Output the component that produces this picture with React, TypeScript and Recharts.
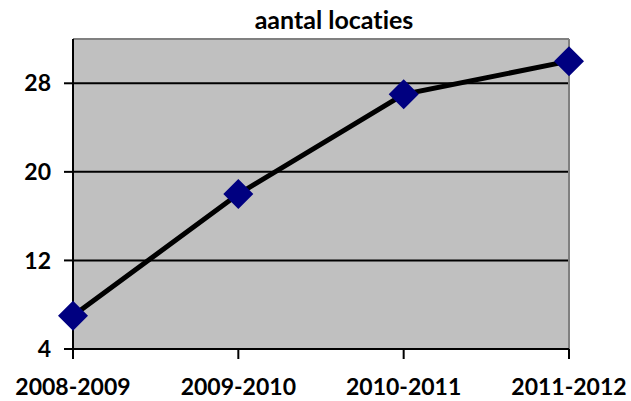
import React from 'react';
import { LineChart, Line, XAxis, YAxis, CartesianGrid, ReferenceLine } from 'recharts';

const seasons = ['2008-2009', '2009-2010', '2010-2011', '2011-2012'];
const locations = [7, 18, 27, 30];
const yTicks = [4, 12, 20, 28];

const chartData = seasons.map((season, i) => ({ season, locaties: locations[i] }));

const font = 'Lato, "Open Sans", sans-serif';

const DiamondDot = (props: any) => {
  const { cx, cy, index } = props;
  if (cx == null || cy == null) return null;
  const r = 15;
  return (
    <polygon
      key={`d-${index}`}
      points={`${cx},${cy - r} ${cx + r},${cy} ${cx},${cy + r} ${cx - r},${cy}`}
      fill="#000080"
    />
  );
};

export default function App() {
  return (
    <div style={{ position: 'absolute', left: 0, top: 0, width: 631, height: 401, background: '#fff' }}>
      <div
        style={{
          position: 'absolute',
          left: 334,
          top: 5,
          transform: 'translateX(-50%)',
          fontFamily: font,
          fontWeight: 700,
          fontSize: 25,
          lineHeight: '28px',
          whiteSpace: 'nowrap',
          fontVariantLigatures: 'none',
          color: '#000',
        }}
      >
        aantal locaties
      </div>
      <LineChart
        width={631}
        height={401}
        data={chartData}
        margin={{ top: 39, right: 62, left: 0, bottom: 0 }}
      >
        <CartesianGrid vertical={false} fill="#C0C0C0" stroke="#000" strokeWidth={2} />
        <XAxis
          dataKey="season"
          scale="point"
          padding={{ left: 0, right: 0 }}
          height={52}
          interval={0}
          axisLine={{ stroke: '#000', strokeWidth: 2 }}
          tickLine={{ stroke: '#000', strokeWidth: 2 }}
          tickSize={10}
          tickMargin={20}
          tick={{ fontFamily: font, fontWeight: 700, fontSize: 23, fill: '#000' }}
        />
        <YAxis
          domain={[4, 32]}
          ticks={yTicks}
          width={73}
          interval={0}
          axisLine={{ stroke: '#000', strokeWidth: 2 }}
          tickLine={{ stroke: '#000', strokeWidth: 2 }}
          tickSize={9}
          tickMargin={13}
          tick={{ fontFamily: font, fontWeight: 700, fontSize: 23, fill: '#000' }}
        />
        <ReferenceLine y={32} stroke="#808080" strokeWidth={2} />
        <ReferenceLine x="2011-2012" stroke="#808080" strokeWidth={2} />
        <Line
          type="linear"
          dataKey="locaties"
          stroke="#000"
          strokeWidth={5}
          dot={DiamondDot}
          activeDot={false}
          isAnimationActive={false}
        />
      </LineChart>
    </div>
  );
}
